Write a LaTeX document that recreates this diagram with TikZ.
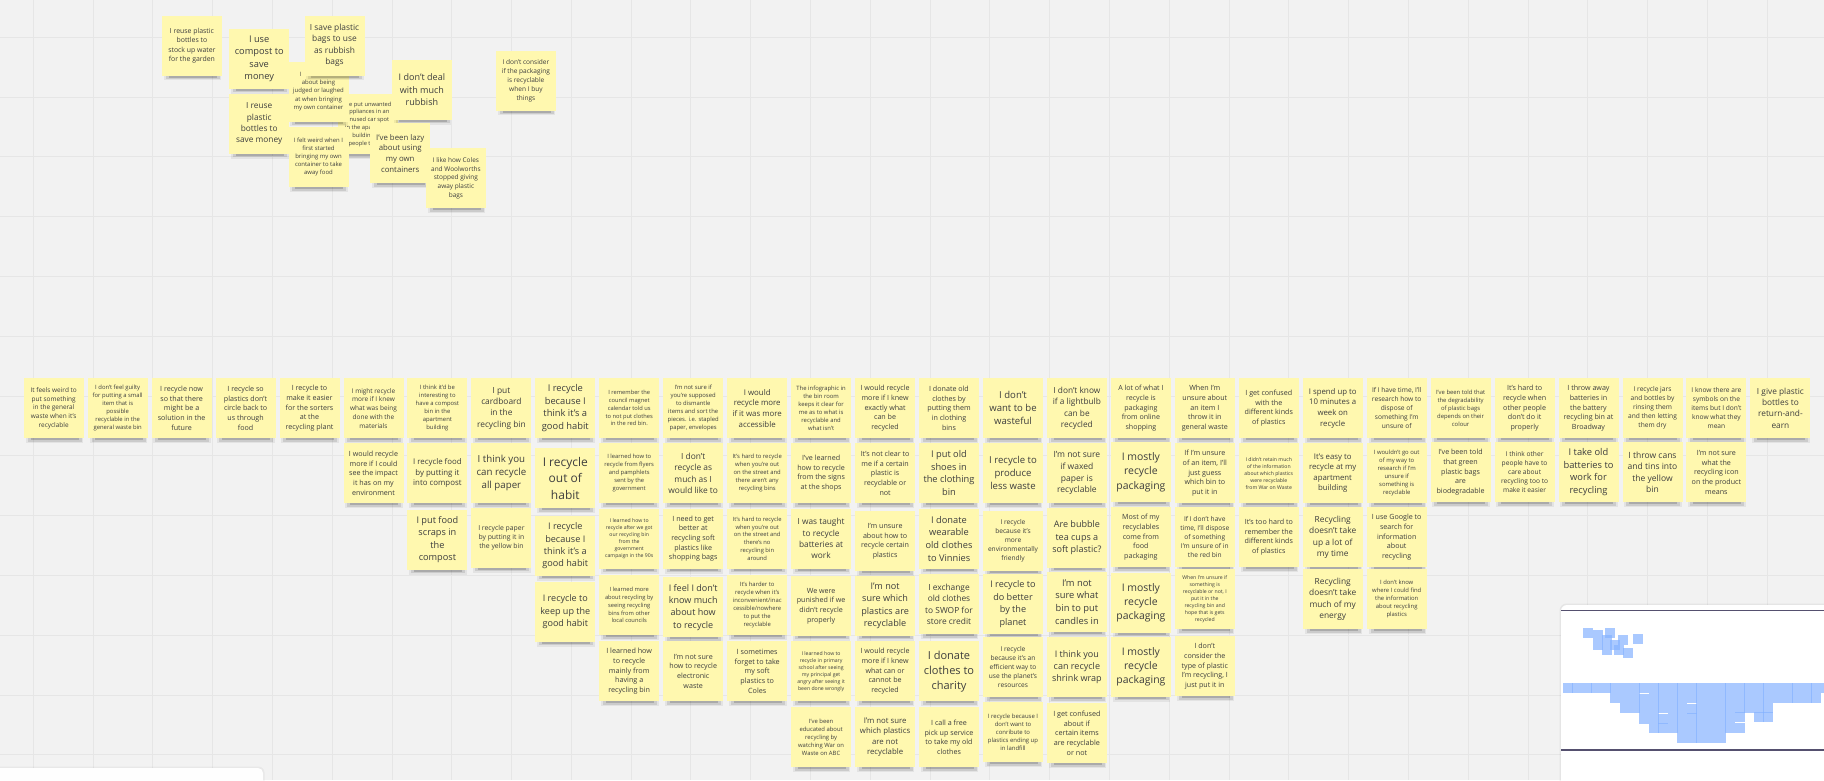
\documentclass[tikz,border=0pt]{standalone}
\usepackage{fontspec}
\setmainfont{Open Sans}
\usetikzlibrary{calc}

\definecolor{board}{HTML}{F2F2F2}
\definecolor{gridline}{HTML}{E6E6E6}
\definecolor{stickyfill}{HTML}{FFF8AF}
\definecolor{stickytext}{HTML}{3E3E3E}
\definecolor{mapblue}{HTML}{86B3FF}
\definecolor{frameline}{HTML}{55506F}

% one sticky note: name, left x, top y, line spacing (px), text
% it also drops its thumbnail into the overview panel
\newcommand\sticky[5]{%
  \pgfmathsetmacro\stsize{#4/1.36}%
  \fill[black,opacity=.06] (#2+2,#3+54) rectangle (#2+59.5,#3+65);
  \fill[black,opacity=.10] (#2+4,#3+55) rectangle (#2+58,#3+63.5);
  \fill[black,opacity=.16] (#2+7,#3+56) rectangle (#2+55,#3+62.2);
  \node[notebox, font=\fontsize{\stsize pt}{#4 pt}\selectfont] (#1) at (#2,#3) {#5};
  \fill[mapsq] ({1562.7+(#2-24)*0.1495},{683.3+(#3-378)*0.152}) rectangle ++(10,10);
}

\begin{document}
\begin{tikzpicture}[x=1pt,y=-1pt,
  notebox/.style={anchor=north west, fill=stickyfill, text=stickytext,
    minimum width=60, minimum height=60, inner sep=0, align=center},
  mapsq/.style={fill=mapblue, fill opacity=.7}]
\useasboundingbox (0,0) rectangle (1824,780);
\clip (0,0) rectangle (1824,780);

% board and its grid
\fill[board] (0,0) rectangle (1824,780);
\foreach \k in {0,...,30} \draw[gridline, line width=1] ({33.3+59.79*\k},0) -- ++(0,780);
\foreach \k in {0,...,13} \draw[gridline, line width=1] (0,{37.3+59.79*\k}) -- ++(1824,0);

% bottom-left tray
\fill[black,opacity=.04,rounded corners=6] (-10,766.5) rectangle (264.5,800);
\fill[white!97!board,rounded corners=5] (-10,768) rectangle (263,800);

% overview panel
\fill[black,opacity=.05,rounded corners=7] (1559.5,603.5) rectangle (1840,800);
\fill[white,rounded corners=6] (1561,605) rectangle (1840,800);
\draw[frameline,line width=1.7] (1561,610.6) -- (1824,610.6);
\draw[frameline,line width=1.7] (1561,750.2) -- (1824,750.2);

% ---- loose cluster at the top ----
\sticky{t1}{161.7}{15.3}{9.4}{I reuse plastic\\bottles to\\stock up water\\for the garden}
\sticky{t2}{229}{28.7}{12.6}{I use\\compost to\\save\\money}
\sticky{t3}{229}{93.7}{11.3}{I reuse\\plastic\\bottles to\\save money}
\sticky{t4}{337.5}{94}{7.8}{\hphantom{W}e put unwanted\\appliances in an\\unused car spot\\in the apartment\\building for\\people to take}
\sticky{t5}{288.3}{61.3}{8.1}{I\hphantom{ was worried}\\about being\\judged or laughed\\at when bringing\\my own container}
\sticky{t6}{304.3}{15.3}{11.4}{I save plastic\\bags to use\\as rubbish\\bags}
\sticky{t7}{288.3}{127}{8.1}{I felt weird when I\\first started\\bringing my own\\container to take\\away food}
\sticky{t8}{391.7}{59.7}{12.3}{I don't deal\\with much\\rubbish}
\sticky{t9}{370}{123}{10.6}{I've been lazy\\about using\\my own\\containers}
\sticky{t10}{425.7}{148}{8.8}{I like how Coles\\and Woolworths\\stopped giving\\away plastic\\bags}
\sticky{t11}{495.7}{50.3}{8.9}{I don't consider\\if the packaging\\is recyclable\\when I buy\\things}

% ---- sorted wall of notes ----
\sticky{c0r0}{23.5}{378}{8.8}{It feels weird to\\put something\\in the general\\waste when it's\\recyclable}
\sticky{c1r0}{87.5}{378}{8.0}{I don't feel guilty\\for putting a small\\item that is\\possible\\recyclable in the\\general waste bin}
\sticky{c2r0}{151.4}{378}{9.7}{I recycle now\\so that there\\might be a\\solution in the\\future}
\sticky{c3r0}{215.4}{378}{9.7}{I recycle so\\plastics don't\\circle back to\\us through\\food}
\sticky{c4r0}{279.3}{378}{9.7}{I recycle to\\make it easier\\for the sorters\\at the\\recycling plant}
\sticky{c5r0}{343.3}{378}{8.8}{I might recycle\\more if I knew\\what was being\\done with the\\materials}
\sticky{c5r1}{343.3}{443}{9.7}{I would recycle\\more if I could\\see the impact\\it has on my\\environment}
\sticky{c6r0}{407.2}{378}{8.0}{I think it'd be\\interesting to\\have a compost\\bin in the\\apartment\\building}
\sticky{c6r1}{407.2}{443}{10.7}{I recycle food\\by putting it\\into compost}
\sticky{c6r2}{407.2}{509.5}{12.5}{I put food\\scraps in\\the\\compost}
\sticky{c7r0}{471.2}{378}{11.4}{I put\\cardboard\\in the\\recycling bin}
\sticky{c7r1}{471.2}{443}{13.2}{I think you\\can recycle\\all paper}
\sticky{c7r2}{471.2}{507.5}{9.3}{I recycle paper\\by putting it in\\the yellow bin}
\sticky{c8r0}{535.1}{378}{12.7}{I recycle\\because I\\think it's a\\good habit}
\sticky{c8r1}{535.1}{448}{16.3}{I recycle\\out of\\habit}
\sticky{c8r2}{535.1}{515.7}{12.4}{I recycle\\because I\\think it's a\\good habit}
\sticky{c8r3}{535.1}{581.7}{12.3}{I recycle to\\keep up the\\good habit}
\sticky{c9r0}{599}{378}{7.8}{I remember the\\council magnet\\calendar told us\\to not put clothes\\in the red bin.}
\sticky{c9r1}{599}{443}{7.9}{I learned how to\\recycle from flyers\\and pamphlets\\sent by the\\government}
\sticky{c9r2}{599}{508.5}{7.0}{I learned how to\\recycle after we got\\our recycling bin\\from the\\government\\campaign in the 90s}
\sticky{c9r3}{599}{575}{7.8}{I learned more\\about recycling by\\seeing recycling\\bins from other\\local councils}
\sticky{c9r4}{599}{641}{9.8}{I learned how\\to recycle\\mainly from\\having a\\recycling bin}
\sticky{c10r0}{663}{378}{8.0}{I'm not sure if\\you're supposed\\to dismantle\\items and sort the\\pieces. i.e. stapled\\paper, envelopes}
\sticky{c10r1}{663}{443}{11.4}{I don't\\recycle as\\much as I\\would like to}
\sticky{c10r2}{663}{508.5}{9.7}{I need to get\\better at\\recycling soft\\plastics like\\shopping bags}
\sticky{c10r3}{663}{577}{12.3}{I feel I don't\\know much\\about how\\to recycle}
\sticky{c10r4}{663}{641}{9.7}{I'm not sure\\how to recycle\\electronic\\waste}
\sticky{c11r0}{727}{378}{10.7}{I would\\recycle more\\if it was more\\accessible}
\sticky{c11r1}{727}{443}{8.0}{It's hard to recycle\\when you're out\\on the street and\\there aren't any\\recycling bins}
\sticky{c11r2}{727}{508.5}{7.9}{It's hard to recycle\\when you're out\\on the street and\\there's no\\recycling bin\\around}
\sticky{c11r3}{727}{575}{8.0}{It's harder to\\recycle when it's\\inconvenient/inac\\cessible/nowhere\\to put the\\recyclable}
\sticky{c11r4}{727}{641}{9.8}{I sometimes\\forget to take\\my soft\\plastics to\\Coles}
\sticky{c12r0}{790.9}{378}{8.0}{The infographic in\\the bin room\\keeps it clear for\\me as to what is\\recyclable and\\what isn't}
\sticky{c12r1}{790.9}{443}{9.7}{I've learned\\how to recycle\\from the signs\\at the shops}
\sticky{c12r2}{790.9}{508.5}{11.3}{I was taught\\to recycle\\batteries at\\work}
\sticky{c12r3}{790.9}{575.7}{9.7}{We were\\punished if we\\didn't recycle\\properly}
\sticky{c12r4}{790.9}{641}{7.0}{I learned how to\\recycle in primary\\school after seeing\\my principal get\\angry after seeing it\\been done wrongly}
\sticky{c12r5}{790.9}{707}{8.0}{I've been\\educated about\\recycling by\\watching War on\\Waste on ABC}
\sticky{c13r0}{854.9}{378}{9.7}{I would recycle\\more if I knew\\exactly what\\can be\\recycled}
\sticky{c13r1}{854.9}{443}{9.7}{It's not clear to\\me if a certain\\plastic is\\recyclable or\\not}
\sticky{c13r2}{854.9}{511}{9.7}{I'm unsure\\about how to\\recycle certain\\plastics}
\sticky{c13r3}{854.9}{575.7}{12.4}{I'm not\\sure which\\plastics are\\recyclable}
\sticky{c13r4}{854.9}{641}{9.7}{I would recycle\\more if I knew\\what can or\\cannot be\\recycled}
\sticky{c13r5}{854.9}{707}{10.6}{I'm not sure\\which plastics\\are not\\recyclable}
\sticky{c14r0}{918.8}{378}{9.7}{I donate old\\clothes by\\putting them\\in clothing\\bins}
\sticky{c14r1}{918.8}{443}{12.6}{I put old\\shoes in\\the clothing\\bin}
\sticky{c14r2}{918.8}{508.5}{12.6}{I donate\\wearable\\old clothes\\to Vinnies}
\sticky{c14r3}{918.8}{574}{11.4}{I exchange\\old clothes\\to SWOP for\\store credit}
\sticky{c14r4}{918.8}{641}{15}{I donate\\clothes to\\charity}
\sticky{c14r5}{918.8}{707}{9.7}{I call a free\\pick up service\\to take my old\\clothes}
\sticky{c15r0}{982.8}{378}{13}{I don't\\want to be\\wasteful}
\sticky{c15r1}{982.8}{443}{13}{I recycle to\\produce\\less waste}
\sticky{c15r2}{982.8}{510.7}{9}{I recycle\\because it's\\more\\environmentally\\friendly}
\sticky{c15r3}{982.8}{574}{12.4}{I recycle to\\do better\\by the\\planet}
\sticky{c15r4}{982.8}{637}{9}{I recycle\\because it's an\\efficient way to\\use the planet's\\resources}
\sticky{c15r5}{982.8}{702}{8.1}{I recycle because I\\don't want to\\conribute to\\plastics ending up\\in landfill}
\sticky{c16r0}{1046.7}{378}{11.3}{I don't know\\if a lightbulb\\can be\\recycled}
\sticky{c16r1}{1046.7}{443}{11.6}{I'm not sure\\if waxed\\paper is\\recyclable}
\sticky{c16r2}{1046.7}{507.5}{12.3}{Are bubble\\tea cups a\\soft plastic?}
\sticky{c16r3}{1046.7}{571.7}{12.7}{I'm not\\sure what\\bin to put\\candles in}
\sticky{c16r4}{1046.7}{637}{12.3}{I think you\\can recycle\\shrink wrap}
\sticky{c16r5}{1046.7}{703}{9.8}{I get confused\\about if\\certain items\\are recyclable\\or not}
\sticky{c17r0}{1110.7}{378}{9.6}{A lot of what I\\recycle is\\packaging\\from online\\shopping}
\sticky{c17r1}{1110.7}{442}{14.2}{I mostly\\recycle\\packaging}
\sticky{c17r2}{1110.7}{507}{9.7}{Most of my\\recyclables\\come from\\food\\packaging}
\sticky{c17r3}{1110.7}{572.7}{14.2}{I mostly\\recycle\\packaging}
\sticky{c17r4}{1110.7}{636.7}{14.2}{I mostly\\recycle\\packaging}
\sticky{c18r0}{1174.6}{378}{9.7}{When I'm\\unsure about\\an item I\\throw it in\\general waste}
\sticky{c18r1}{1174.6}{443}{9.7}{If I'm unsure\\of an item, I'll\\just guess\\which bin to\\put it in}
\sticky{c18r2}{1174.6}{507}{9.0}{If I don't have\\time, I'll dispose\\of something\\I'm unsure of in\\the red bin}
\sticky{c18r3}{1174.6}{569}{7.0}{When I'm unsure if\\something is\\recyclable or not, I\\put it in the\\recycling bin and\\hope that is gets\\recycled}
\sticky{c18r4}{1174.6}{636}{9.7}{I don't\\consider the\\type of plastic\\I'm recycling, I\\just put it in}
\sticky{c19r0}{1238.6}{378}{9.7}{I get confused\\with the\\different kinds\\of plastics}
\sticky{c19r1}{1238.6}{443}{7.0}{I didn't retain much\\of the information\\about which plastics\\were recyclable\\from War on Waste}
\sticky{c19r2}{1238.6}{507}{9.7}{It's too hard to\\remember the\\different kinds\\of plastics}
\sticky{c20r0}{1302.5}{378}{10.6}{I spend up to\\10 minutes a\\week on\\recycle}
\sticky{c20r1}{1302.5}{443}{10.6}{It's easy to\\recycle at my\\apartment\\building}
\sticky{c20r2}{1302.5}{507}{11.4}{Recycling\\doesn't take\\up a lot of\\my time}
\sticky{c20r3}{1302.5}{569}{11.4}{Recycling\\doesn't take\\much of my\\energy}
\sticky{c21r0}{1366.5}{378}{9.0}{If I have time, I'll\\research how to\\dispose of\\something I'm\\unsure of}
\sticky{c21r1}{1366.5}{443}{8.0}{I wouldn't go out\\of my way to\\research if I'm\\unsure if\\something is\\recyclable}
\sticky{c21r2}{1366.5}{507}{9.7}{I use Google to\\search for\\information\\about\\recycling}
\sticky{c21r3}{1366.5}{569}{8.0}{I don't know\\where I could find\\the information\\about recycling\\plastics}
\sticky{c22r0}{1430.4}{378}{8.0}{I've been told that\\the degradability\\of plastic bags\\depends on their\\colour}
\sticky{c22r1}{1430.4}{442}{9.7}{I've been told\\that green\\plastic bags\\are\\biodegradable}
\sticky{c23r0}{1494.4}{378}{9.7}{It's hard to\\recycle when\\other people\\don't do it\\properly}
\sticky{c23r1}{1494.4}{442}{9.0}{I think other\\people have to\\care about\\recycling too to\\make it easier}
\sticky{c24r0}{1558.3}{378}{9.7}{I throw away\\batteries in\\the battery\\recycling bin at\\Broadway}
\sticky{c24r1}{1558.3}{442}{12.7}{I take old\\batteries to\\work for\\recycling}
\sticky{c25r0}{1622.3}{378}{9.0}{I recycle jars\\and bottles by\\rinsing them\\and then letting\\them dry}
\sticky{c25r1}{1622.3}{442}{11.6}{I throw cans\\and tins into\\the yellow\\bin}
\sticky{c26r0}{1686.2}{378}{9.0}{I know there are\\symbols on the\\items but I don't\\know what they\\mean}
\sticky{c26r1}{1686.2}{442}{9.7}{I'm not sure\\what the\\recycling icon\\on the product\\means}
\sticky{c27r0}{1750.2}{378}{11.3}{I give plastic\\bottles to\\return-and-\\earn}
\end{tikzpicture}
\end{document}
